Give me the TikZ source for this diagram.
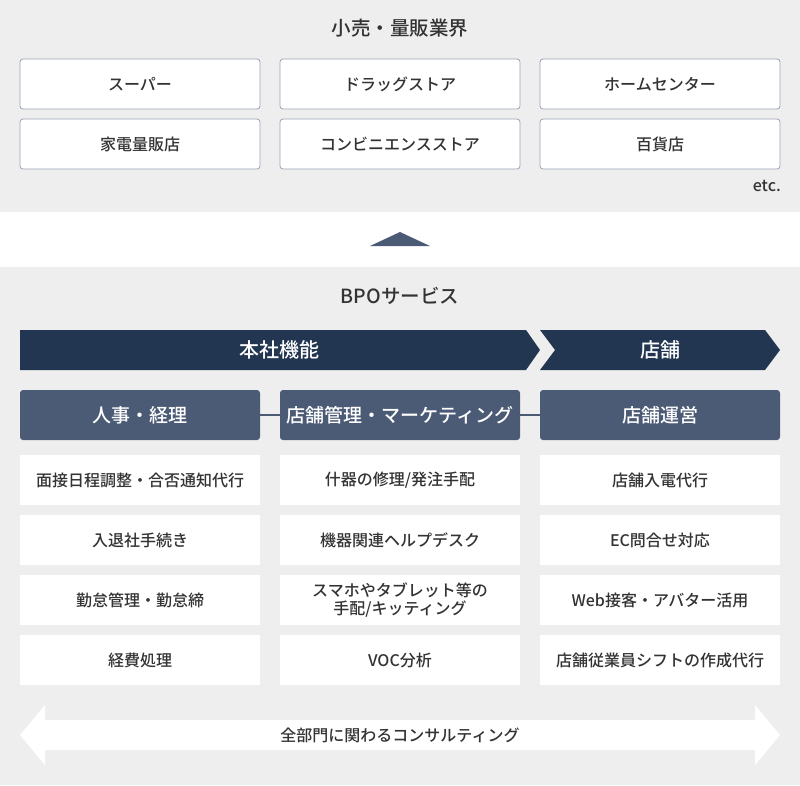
\documentclass[tikz,border=0pt]{standalone}
\usepackage{fontspec}
\setmainfont{Noto Sans CJK JP}[UprightFont={* Medium}, BoldFont={* Bold}]
\definecolor{bgc}{HTML}{EEEEEE}
\definecolor{txt}{HTML}{333333}
\definecolor{navy}{HTML}{233651}
\definecolor{slate}{HTML}{4B5B76}
\definecolor{bord}{HTML}{9BA4B5}
\tikzset{
  retail/.style={draw=bord, line width=0.8pt, fill=white, rounded corners=3pt,
    minimum width=240pt, minimum height=50pt, inner sep=0pt, text=txt, font=\fontsize{16}{18}\selectfont},
  cat/.style={fill=slate, rounded corners=3pt, minimum width=240pt, minimum height=50pt,
    inner sep=0pt, text=white, font=\fontsize{19}{21}\selectfont},
  svc/.style={fill=white, minimum width=240pt, minimum height=50pt, inner sep=0pt,
    text=txt, align=center, font=\fontsize{16}{18}\selectfont},
  ttl/.style={text=txt, font=\fontsize{19.5}{21}\selectfont},
  chev/.style={text=white, font=\fontsize{20}{22}\selectfont},
  link/.style={draw=slate, line width=1.5pt}
}
\begin{document}
\begin{tikzpicture}[x=1pt,y=-1pt]
\useasboundingbox (0,0) rectangle (800,785);
\fill[bgc] (0,0) rectangle (800,785);
\fill[white] (0,212) rectangle (800,267);
% top section
\node[ttl] (t1) at (400,28) {小売・量販業界};
\node[retail] (r1) at (140,84) {スーパー};
\node[retail] (r2) at (400,84) {ドラッグストア};
\node[retail] (r3) at (660,84) {ホームセンター};
\node[retail] (r4) at (140,144) {家電量販店};
\node[retail] (r5) at (400,144) {コンビニエンスストア};
\node[retail] (r6) at (660,144) {百貨店};
\node[text=txt, font=\fontsize{16}{18}\selectfont, anchor=east, inner sep=0pt] (etc) at (781,186) {etc.};
% triangle
\fill[slate] (400,232) -- (430,246) -- (370,246) -- cycle;
% BPO
\node[ttl] (t2) at (400,296) {BPOサービス};
\fill[navy] (20,330) -- (526,330) -- (540,350) -- (526,370) -- (20,370) -- cycle;
\node[chev] (hq) at (279,350) {本社機能};
\fill[navy] (540,330) -- (765,330) -- (780,350) -- (765,370) -- (540,370) -- (555,350) -- cycle;
\node[chev] (st) at (660,350) {店舗};
% categories
\node[cat] (c1) at (140,415) {人事・経理};
\node[cat] (c2) at (400,415) {店舗管理・マーケティング};
\node[cat] (c3) at (660,415) {店舗運営};
\draw[link] (c1.east) -- (c2.west);
\draw[link] (c2.east) -- (c3.west);
% services
\node[svc] (a1) at (140,480) {面接日程調整・合否通知代行};
\node[svc] (a2) at (140,540) {入退社手続き};
\node[svc] (a3) at (140,600) {勤怠管理・勤怠締};
\node[svc] (a4) at (140,660) {経費処理};
\node[svc] (b1) at (400,480) {什器の修理/発注手配};
\node[svc] (b2) at (400,540) {機器関連ヘルプデスク};
\node[svc] (b3) at (400,600) {スマホやタブレット等の\\手配/キッティング};
\node[svc] (b4) at (400,660) {VOC分析};
\node[svc] (d1) at (660,480) {店舗入電代行};
\node[svc] (d2) at (660,540) {EC問合せ対応};
\node[svc] (d3) at (660,600) {Web接客・アバター活用};
\node[svc] (d4) at (660,660) {店舗従業員シフトの作成代行};
% double arrow
\fill[white] (20,735) -- (45,705) -- (45,720) -- (755,720) -- (755,705) -- (780,735)
  -- (755,765) -- (755,750) -- (45,750) -- (45,765) -- cycle;
\node[text=txt, font=\fontsize{16}{18}\selectfont] (cons) at (400,735) {全部門に関わるコンサルティング};
\end{tikzpicture}
\end{document}
